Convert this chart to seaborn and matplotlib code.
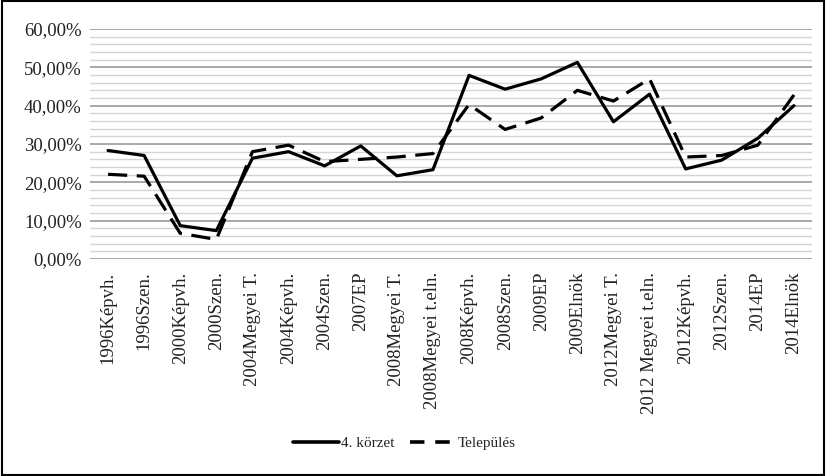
import matplotlib
matplotlib.use("Agg")
import matplotlib.pyplot as plt
import seaborn as sns
import pandas as pd
from matplotlib.ticker import MultipleLocator, FuncFormatter
from matplotlib.patches import Rectangle
from matplotlib.lines import Line2D

categories = ["1996Képvh.", "1996Szen.", "2000Képvh.", "2000Szen.", "2004Megyei T.",
              "2004Képvh.", "2004Szen.", "2007EP", "2008Megyei T.", "2008Megyei t.eln.",
              "2008Képvh.", "2008Szen.", "2009EP", "2009Elnök", "2012Megyei T.",
              "2012 Megyei t.eln.", "2012Képvh.", "2012Szen.", "2014EP", "2014Elnök"]
korzet = [28.3, 27.0, 8.7, 7.4, 26.3, 28.0, 24.3, 29.5, 21.7, 23.3,
          47.9, 44.3, 47.0, 51.3, 35.8, 43.0, 23.5, 25.8, 31.5, 40.0]
telepules = [22.1, 21.6, 6.7, 5.1, 28.0, 29.7, 25.4, 26.0, 26.6, 27.5,
             40.3, 33.8, 36.8, 44.0, 41.2, 47.0, 26.6, 27.0, 29.7, 42.8]
series_names = ["4. körzet", "Település"]

df = pd.DataFrame({
    "cat": categories * 2,
    "val": [v / 100 for v in korzet] + [v / 100 for v in telepules],
    "series": [series_names[0]] * len(categories) + [series_names[1]] * len(categories),
})

sns.set_theme(style="white")
plt.rcParams["font.family"] = ["Liberation Serif", "DejaVu Serif"]

fig = plt.figure(figsize=(8.26, 4.76), dpi=100)
ax = fig.add_axes([90 / 826, 1 - 259 / 476, 722 / 826, 230 / 476])

sns.lineplot(data=df, x="cat", y="val", hue="series", style="series",
             palette=["black", "black"], dashes={series_names[0]: "", series_names[1]: (6, 3)},
             linewidth=2.3, ax=ax, legend=False, sort=False)

ax.set_xlim(-0.5, len(categories) - 0.5)
ax.set_ylim(0, 0.6)
ax.yaxis.set_major_locator(MultipleLocator(0.1))
ax.yaxis.set_minor_locator(MultipleLocator(0.02))
ax.yaxis.set_major_formatter(FuncFormatter(lambda v, p: f"{v*100:.2f}%".replace(".", ",")))
ax.grid(which="major", axis="y", color="#a8a8a8", linewidth=1.4, zorder=0)
ax.grid(which="minor", axis="y", color="#d4d4d4", linewidth=1.0, zorder=0)
ax.grid(axis="x", visible=False)
ax.set_axisbelow(True)
for s in ax.spines.values():
    s.set_visible(False)
ax.set_xlabel("")
ax.set_ylabel("")
ax.set_xticks(range(len(categories)))
ax.set_xticklabels(categories, rotation=90, fontsize=13.5, va="top")
ax.tick_params(axis="y", labelsize=13.5, length=0, pad=6, colors="#222222")
ax.tick_params(axis="x", length=0, pad=9, colors="#222222")
ax.tick_params(axis="y", which="minor", length=0)

handles = [Line2D([], [], color="black", lw=2.6),
           Line2D([], [], color="black", lw=2.6, linestyle=(0, (4, 3)))]
fig.legend(handles, series_names, loc="center", bbox_to_anchor=(0.49, 1 - 443 / 476),
           ncol=2, frameon=False, fontsize=11, handlelength=3.0, columnspacing=1.0,
           handletextpad=0.15)

fig.add_artist(Rectangle((0.002, 0.003), 0.996, 0.994, transform=fig.transFigure,
                         fill=False, edgecolor="black", linewidth=1.5))

fig.savefig("out.png", dpi=100)
